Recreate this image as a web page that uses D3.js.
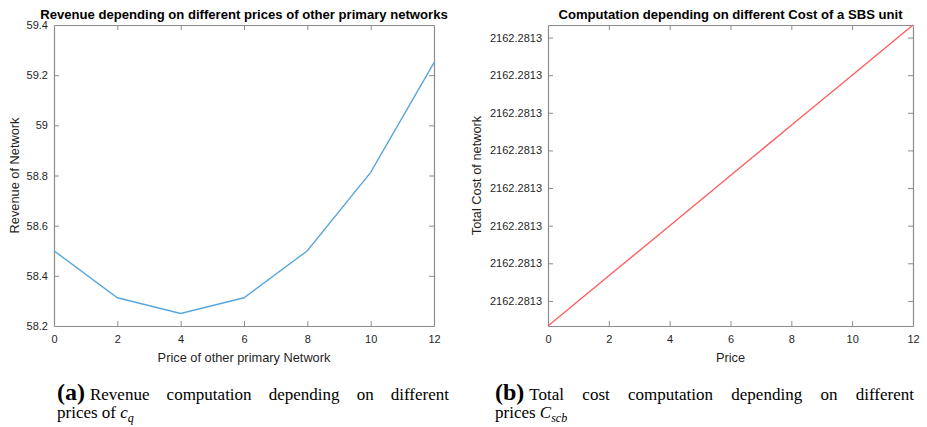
<!DOCTYPE html>
<html>
<head>
<meta charset="utf-8">
<script src="https://cdn.jsdelivr.net/npm/d3@7"></script>
<style>
  html, body { margin: 0; padding: 0; background: #fff; }
  svg { display: block; }
</style>
</head>
<body>
<svg id="chart" width="927" height="427"></svg>
<script>
// Panel (a): revenue against the price of the other primary networks
const revenuePrices = [0, 2, 4, 6, 8, 10, 12];
const revenueValues = [58.5, 58.3125, 58.25, 58.3125, 58.5, 58.8125, 59.25];
const revenueXTicks = [0, 2, 4, 6, 8, 10, 12];
const revenueYTicks = [58.2, 58.4, 58.6, 58.8, 59, 59.2, 59.4];

// Panel (b): total network cost against the SBS unit price
const costPrices = [0, 2, 4, 6, 8, 10, 12];
const costValues = [2162.28130000, 2162.28130004, 2162.28130008, 2162.28130012,
                    2162.28130016, 2162.28130020, 2162.28130024];
const costXTicks = [0, 2, 4, 6, 8, 10, 12];
const costYTicks = [2162.28130002, 2162.28130005, 2162.28130008, 2162.28130011,
                    2162.28130014, 2162.28130017, 2162.28130020, 2162.28130023];

const svg = d3.select("#chart");
const frameColor = "#8c8c8c";
const textColor = "#1f1f1f";
const sans = "\"Liberation Sans\", Arial, Helvetica, sans-serif";
const serif = "\"Liberation Serif\", \"Times New Roman\", serif";

function panel(opts) {
  const { x0, x1, y0, y1 } = opts;
  const g = svg.append("g");
  const x = d3.scaleLinear().domain(opts.xDomain).range([x0, x1]);
  const y = d3.scaleLinear().domain(opts.yDomain).range([y1, y0]);

  // box with inward ticks on all four sides
  const tl = 5;
  const bottom = d3.axisBottom(x).tickValues(opts.xTicks).tickSizeInner(-tl).tickSizeOuter(0).tickPadding(9);
  const top = d3.axisTop(x).tickValues(opts.xTicks).tickSizeInner(-tl).tickSizeOuter(0).tickFormat("");
  const left = d3.axisLeft(y).tickValues(opts.yTicks).tickSizeInner(-tl).tickSizeOuter(0).tickPadding(6).tickFormat(opts.yFormat);
  const right = d3.axisRight(y).tickValues(opts.yTicks).tickSizeInner(-tl).tickSizeOuter(0).tickFormat("");

  const ax = [
    g.append("g").attr("transform", `translate(0,${y1})`).call(bottom),
    g.append("g").attr("transform", `translate(0,${y0})`).call(top),
    g.append("g").attr("transform", `translate(${x0},0)`).call(left),
    g.append("g").attr("transform", `translate(${x1},0)`).call(right)
  ];
  ax.forEach((a, k) => {
    a.select(".domain").attr("stroke", frameColor).attr("stroke-width", 1.2);
    a.selectAll(".tick line").attr("stroke", frameColor).attr("stroke-width", 1);
    a.selectAll(".tick text").attr("fill", textColor)
      .style("font-family", sans)
      .style("font-size", "11px");
    // end ticks sit on the frame corners, so leave them out
    const dom = k < 2 ? opts.xDomain : opts.yDomain;
    a.selectAll(".tick line").filter(d => d === dom[0] || d === dom[1]).remove();
  });

  const line = d3.line().x(d => x(d[0])).y(d => y(d[1]));
  g.append("path")
    .datum(opts.xs.map((v, i) => [v, opts.ys[i]]))
    .attr("d", line)
    .attr("fill", "none")
    .attr("stroke", opts.color)
    .attr("stroke-width", 1.4);

  const cx = (x0 + x1) / 2;
  g.append("text")
    .attr("x", cx).attr("y", 18.5)
    .attr("text-anchor", "middle")
    .style("font-family", sans)
    .style("font-size", "13.1px").style("font-weight", "bold")
    .attr("fill", "#000")
    .text(opts.title);

  g.append("text")
    .attr("x", cx).attr("y", 361.5)
    .attr("text-anchor", "middle")
    .style("font-family", sans)
    .style("font-size", "12.8px")
    .attr("fill", textColor)
    .text(opts.xLabel);

  g.append("text")
    .attr("transform", `translate(${opts.yLabelX},${(y0 + y1) / 2}) rotate(-90)`)
    .attr("text-anchor", "middle")
    .style("font-family", sans)
    .style("font-size", "12.8px")
    .attr("fill", textColor)
    .text(opts.yLabel);
}

panel({
  x0: 54, x1: 434, y0: 25, y1: 326,
  xDomain: [0, 12], yDomain: [58.2, 59.4],
  xTicks: revenueXTicks, yTicks: revenueYTicks,
  yFormat: d => String(+d.toFixed(1)),
  xs: revenuePrices, ys: revenueValues,
  color: "#5aa6dc",
  title: "Revenue depending on different prices of other primary networks",
  xLabel: "Price of other primary Network",
  yLabel: "Revenue of Network",
  yLabelX: 19
});

panel({
  x0: 548, x1: 913, y0: 25, y1: 326,
  xDomain: [0, 12], yDomain: [costValues[0], costValues[costValues.length - 1]],
  xTicks: costXTicks, yTicks: costYTicks,
  yFormat: d => d.toFixed(4),
  xs: costPrices, ys: costValues,
  color: "#ff5f5f",
  title: "Computation depending on different Cost of a SBS unit",
  xLabel: "Price",
  yLabel: "Total Cost of network",
  yLabelX: 481
});

// Sub-figure captions, first line justified across the column
function caption(tag, words, left, right, line2) {
  const g = svg.append("g");
  const tagText = g.append("text")
    .attr("x", left).attr("y", 399.5)
    .style("font-family", serif).style("font-size", "24px").style("font-weight", "bold")
    .attr("fill", "#000")
    .text(`(${tag})`);
  const tagW = tagText.node().getComputedTextLength();

  const nodes = words.map(w => g.append("text")
    .attr("y", 399.5)
    .style("font-family", serif).style("font-size", "17px")
    .attr("fill", "#000").text(w));
  const widths = nodes.map(n => n.node().getComputedTextLength());
  const start = left + tagW + 5;
  const total = widths.reduce((a, b) => a + b, 0);
  const gap = (right - start - total) / (words.length - 1);
  let cx = start;
  nodes.forEach((n, i) => { n.attr("x", cx); cx += widths[i] + gap; });

  const t2 = g.append("text")
    .attr("x", left).attr("y", 418)
    .style("font-family", serif).style("font-size", "17px")
    .attr("fill", "#000");
  t2.append("tspan").text(line2.prefix);
  t2.append("tspan").style("font-style", "italic").text(line2.sym);
  t2.append("tspan").attr("dy", 4).style("font-style", "italic").style("font-size", "12px").text(line2.sub);
}

caption("a", ["Revenue", "computation", "depending", "on", "different"], 57, 449,
        { prefix: "prices of ", sym: "c", sub: "q" });
caption("b", ["Total", "cost", "computation", "depending", "on", "different"], 495, 914,
        { prefix: "prices ", sym: "C", sub: "scb" });
</script>
</body>
</html>
